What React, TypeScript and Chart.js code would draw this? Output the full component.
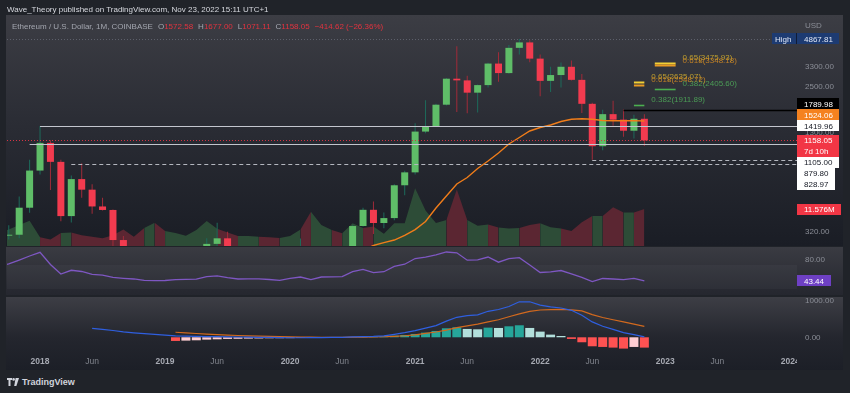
import React, { useEffect, useRef } from "react";
import { Chart, registerables } from "chart.js";
Chart.register(...registerables);

// ---------- data ----------
const MONTHS = [
  "2017-09", "2017-10", "2017-11", "2017-12",
  "2018-01", "2018-02", "2018-03", "2018-04", "2018-05", "2018-06", "2018-07", "2018-08", "2018-09", "2018-10", "2018-11", "2018-12",
  "2019-01", "2019-02", "2019-03", "2019-04", "2019-05", "2019-06", "2019-07", "2019-08", "2019-09", "2019-10", "2019-11", "2019-12",
  "2020-01", "2020-02", "2020-03", "2020-04", "2020-05", "2020-06", "2020-07", "2020-08", "2020-09", "2020-10", "2020-11", "2020-12",
  "2021-01", "2021-02", "2021-03", "2021-04", "2021-05", "2021-06", "2021-07", "2021-08", "2021-09", "2021-10", "2021-11", "2021-12",
  "2022-01", "2022-02", "2022-03", "2022-04", "2022-05", "2022-06", "2022-07", "2022-08", "2022-09", "2022-10", "2022-11",
];
const OPEN = [
  388, 301, 305, 447,
  756, 1118, 855, 397, 670, 577, 455, 433, 283, 233, 197, 113,
  133, 107, 136, 141, 162, 268, 290, 218, 172, 181, 182, 151,
  130, 180, 218, 133, 206, 231, 226, 345, 434, 360, 386, 614,
  737, 1312, 1417, 1919, 2772, 2707, 2275, 2532, 3433, 3001, 4288, 4631,
  3682, 2688, 2919, 3281, 2727, 1943, 1067, 1679, 1553, 1328, 1572.58,
];
const HIGH = [
  394, 349, 523, 880,
  1419.96, 1160, 880, 705, 838, 624, 515, 436, 300, 237, 222, 159,
  160, 166, 146, 186, 290, 362, 318, 237, 224, 199, 194, 153,
  185, 289, 253, 227, 248, 254, 349, 446, 488, 418, 623, 755,
  1475, 2041, 1946, 2797, 4380, 2891, 2551, 3470, 4027, 4460, 4867.81, 4778,
  3900, 3284, 3483, 3582, 2962, 1972, 1785, 2030, 1789.98, 1663, 1677.0,
];
const LOW = [
  198, 285, 290, 417,
  716, 575, 369, 363, 515, 410, 430, 251, 167, 188, 101, 82,
  100, 103, 126, 140, 158, 232, 192, 163, 152, 157, 137, 117,
  127, 180, 90, 130, 176, 216, 224, 343, 308, 334, 374, 533,
  715, 1282, 1410, 1900, 1730, 1700, 1718, 2450, 2652, 2970, 3900, 3500,
  2159, 2300, 2451, 2705, 1705, 879.8, 1007, 1424, 1221, 1191, 1071.11,
];
const CLOSE = [
  301, 305, 447, 756,
  1118, 855, 397, 670, 577, 455, 433, 283, 233, 197, 113, 133,
  107, 136, 141, 162, 268, 290, 218, 172, 181, 182, 151, 130,
  180, 218, 133, 206, 231, 226, 345, 434, 360, 386, 614, 737,
  1312, 1417, 1919, 2772, 2707, 2275, 2532, 3433, 3001, 4288, 4631, 3682,
  2688, 2919, 3281, 2727, 1943, 1067, 1679, 1553, 1328, 1572.67, 1158.05,
];
// volume in millions
const VOLUME_M = [
  4.1, 5.2, 6.6, 7.9,
  2.7, 2.0, 4.1, 4.2, 3.4, 2.9, 2.4, 3.4, 5.2, 2.9, 5.6, 7.3,
  4.7, 4.1, 3.2, 5.0, 7.8, 5.4, 4.2, 3.1, 3.1, 2.9, 2.7, 2.5,
  3.1, 5.2, 10.7, 6.6, 5.0, 4.0, 7.1, 5.6, 6.1, 3.8, 7.1, 7.1,
  18.1, 11.1, 7.2, 8.1, 17.7, 8.1, 6.3, 6.7, 5.8, 5.5, 5.6, 6.6,
  7.1, 5.9, 5.5, 4.7, 7.4, 9.4, 9.4, 12.1, 10.5, 10.5, 11.576,
];
const MA = [
  null, null, null, null,
  null, null, null, null, null, null, null, null, null, null, null, null,
  null, null, null, null, null, null, null, null, null, null, null, null,
  null, null, null, null, null, null, null, 245, 262, 273, 283, 302,
  328, 368, 445, 527, 625, 685, 778, 865, 969, 1101, 1207, 1323,
  1390, 1440, 1513, 1561, 1574, 1561, 1535, 1530, 1530, 1532, 1524.06,
];
const RSI = [
  68, 71.7, 78.3, 85,
  91.2, 70.8, 55, 61.2, 59.2, 54.2, 53, 49.2, 47.8, 46.7, 44.5, 43.8,
  44.2, 45.5, 46, 46.3, 50.5, 52, 48.8, 46.7, 47, 47, 45.8, 44.5,
  47.8, 50, 45.5, 50, 50.3, 50.5, 58.8, 62.8, 57.2, 58.8, 67.8, 71.3,
  80.8, 83.3, 87, 91.7, 90.3, 78, 78.7, 83.3, 74.7, 80.8, 82.2, 70,
  57.5, 58.7, 60.8, 55.3, 49.2, 42.2, 47.5, 46.7, 45.5, 47.8, 43.44,
];
const MACD = [
  null, null, null, null,
  null, null, null, null, null, 246, 215, 185, 150, 122, 98, 78,
  60, 37, 30, 24, 20, 16, 12, 8, 4, 0, -3, -10,
  -12, -12, -11, -8, -5, 0, 11, 18, 26, 41, 80, 125,
  180, 250, 320, 440, 546, 590, 612, 710, 760, 840, 970, 970,
  880, 830, 800, 737, 600, 420, 300, 218, 127, 73, 9,
];
const SIGNAL = [
  null, null, null, null,
  null, null, null, null, null, null, null, null, null, null, null, null,
  null, 137, 120, 103, 87, 73, 60, 49, 40, 32, 24, 17,
  11, 6, 3, 1, 0, 0, 2, 4, 8, 14, 25, 42,
  68, 105, 145, 195, 265, 310, 360, 420, 480, 560, 640, 710,
  745, 755, 760, 748, 720, 620, 540, 480, 420, 360, 300,
];
const HIST = [
  null, null, null, null,
  null, null, null, null, null, null, null, null, null, null, null, null,
  null, -100, -91, -82, -64, -55, -45, -41, -36, -32, -27, -25,
  -23, -18, -14, -9, -5, 2, 9, 14, 18, 27, 45, 64,
  91, 127, 173, 246, 273, 228, 218, 264, 255, 300, 328, 255,
  155, 73, 36, -45, -136, -246, -264, -282, -309, -264, -282,
];

// horizontal drawings: value + month where it starts
const HLINE_VALUES = [1419.96, 1105.0, 828.97, 879.8, 1789.98];
const HLINE_START = ["2018-01", "2017-12", "2018-04", "2022-06", "2022-09"];
const ATH = 4867.81;

// fib retracement drawings
const FIB_LEVELS = ["0.65", "0.618", "0.382"];
const FIB_A_VALUES = [3475.93, 3348.18, 2405.6];
const FIB_A_SPAN = ["2022-12", "2023-02"];
const FIB_B_VALUES = [2635.07, 2548.72, 1911.89];
const FIB_B_SPAN = ["2022-10", "2022-11"];

const PRICE_TICKS = [3300, 2500, 1800, 1300, 600, 320];
const RSI_TICKS = [80];
const MACD_TICKS = [1000, 0];
const TIME_TICK_MONTHS = ["2018-01", "2018-06", "2019-01", "2019-06", "2020-01", "2020-06", "2021-01", "2021-06", "2022-01", "2022-06", "2023-01", "2023-06", "2024-01"];
const TIME_TICK_LABELS = ["2018", "Jun", "2019", "Jun", "2020", "Jun", "2021", "Jun", "2022", "Jun", "2023", "Jun", "2024"];
const BAR_COUNTDOWN = "7d 10h";

// ---------- layout / style ----------
const FONT = '"Liberation Sans", Arial, sans-serif';
const F8 = `8px ${FONT}`;
const X_MIN = -3.17;
const X_MAX = 72.65;
const PAD = { left: 7, right: 53, top: 0, bottom: 0 };
const PRICE_MIN = 260.1;
const PRICE_MAX = 6824;
const VOL_MAX = 72.3;
const GREEN = "#5fbd68";
const RED = "#f23b4f";
const GREEN_WICK = "#1d6b5b";
const RED_WICK = "#a02b39";
const VOL_GREEN = "#2d4c37";
const VOL_RED = "#5b2632";
const AXIS_TXT = "#8b8e97";
const HLINE_STYLES = [
  { color: "#c3c6ce", dash: [], width: 1.2 },
  { color: "#c3c6ce", dash: [], width: 1.2 },
  { color: "#b4b7bf", dash: [4, 3], width: 1 },
  { color: "#b4b7bf", dash: [4, 3], width: 1 },
  { color: "#000000", dash: [], width: 1.5 },
];
const FIB_COLORS = ["#f2cf35", "#ea9b22", "#4caf50"];
const FIB_TEXT = ["rgba(214,178,45,0.85)", "rgba(214,140,35,0.85)", "rgba(76,160,86,0.95)"];

const mIdx = (s: string) => {
  const [y, m] = s.split("-").map(Number);
  return (y - 2018) * 12 + (m - 1);
};
const X = MONTHS.map(mIdx);
const isUp = (k: number) => CLOSE[k] >= OPEN[k];
const LAST = MONTHS.length - 1;

function hline(ctx: any, x0: number, x1: number, y: number, color: string, dash: number[], width: number) {
  ctx.save();
  ctx.strokeStyle = color;
  ctx.lineWidth = width;
  ctx.setLineDash(dash);
  ctx.beginPath();
  const yy = Math.round(y) + 0.5;
  ctx.moveTo(x0, yy);
  ctx.lineTo(x1, yy);
  ctx.stroke();
  ctx.restore();
}

function tag(ctx: any, text: string, yc: number, bg: string, fg: string, left = 797, h = 11) {
  const w = Math.ceil(ctx.measureText(text).width) + 13;
  ctx.fillStyle = bg;
  ctx.fillRect(left, Math.round(yc - h / 2), w, h);
  ctx.fillStyle = fg;
  ctx.fillText(text, left + 7, yc + 0.5);
}

function forceRange(min: number, max: number) {
  return (s: any) => {
    s.min = min;
    s.max = max;
  };
}

const baseOptions = (scales: any, pad: any = PAD) => ({
  animation: false as const,
  responsive: false,
  maintainAspectRatio: false,
  events: [] as any[],
  layout: { padding: pad },
  plugins: { legend: { display: false }, tooltip: { enabled: false } },
  scales,
});

const xScale = {
  type: "linear",
  min: X_MIN,
  max: X_MAX,
  display: false,
  offset: false,
  afterBuildTicks: forceRange(X_MIN, X_MAX),
};

// ---------- main price pane ----------
const mainOverlay = {
  id: "mainOverlay",
  afterDatasetsDraw(chart: any) {
    const { ctx, chartArea: a, scales } = chart;
    const xs = scales.x;
    const ys = scales.y;
    ctx.save();
    ctx.beginPath();
    ctx.rect(a.left, a.top, a.right - a.left, a.bottom - a.top);
    ctx.clip();
    hline(ctx, a.left, a.right, ys.getPixelForValue(ATH), "#5d606b", [1, 2], 1);
    hline(ctx, a.left, a.right, ys.getPixelForValue(CLOSE[LAST]), "#d63444", [1, 2], 1);
    HLINE_VALUES.forEach((v, k) => {
      const st = HLINE_STYLES[k];
      hline(ctx, xs.getPixelForValue(mIdx(HLINE_START[k])), a.right, ys.getPixelForValue(v), st.color, st.dash, st.width);
    });
    ctx.font = F8;
    ctx.textAlign = "left";
    ctx.textBaseline = "bottom";
    const drawFib = (values: number[], span: string[]) => {
      const x0 = xs.getPixelForValue(mIdx(span[0]));
      const x1 = xs.getPixelForValue(mIdx(span[1]));
      values.forEach((v, k) => {
        const y = ys.getPixelForValue(v);
        hline(ctx, x0, x1, y, FIB_COLORS[k], [], k === 2 ? 1.6 : 2);
      });
      values.forEach((v, k) => {
        const y = ys.getPixelForValue(v);
        ctx.fillStyle = FIB_TEXT[k];
        ctx.fillText(`${FIB_LEVELS[k]}(${v.toFixed(2)})`, x1 + 7, y - 1);
      });
    };
    drawFib(FIB_A_VALUES, FIB_A_SPAN);
    drawFib(FIB_B_VALUES, FIB_B_SPAN);
    ctx.restore();
  },
  afterDraw(chart: any) {
    const { ctx, chartArea: a, scales } = chart;
    const ys = scales.y;
    const vs = scales.vol;
    ctx.save();
    ctx.font = F8;
    ctx.textAlign = "left";
    ctx.textBaseline = "middle";
    ctx.fillStyle = AXIS_TXT;
    ctx.fillText("USD", 805, a.top + 11);
    PRICE_TICKS.forEach((v) => {
      ctx.fillStyle = AXIS_TXT;
      ctx.fillText(v.toFixed(2), 805, ys.getPixelForValue(v) + 0.5);
    });
    // High tag
    const yh = ys.getPixelForValue(ATH);
    const hw = Math.ceil(ctx.measureText(ATH.toFixed(2)).width) + 13;
    ctx.fillStyle = "#1d3b72";
    ctx.fillRect(772, Math.round(yh - 5.5), 797 - 772 + hw, 11);
    ctx.fillStyle = "#101c36";
    ctx.fillRect(796, Math.round(yh - 5.5), 1, 11);
    ctx.fillStyle = "#dfe6f5";
    ctx.fillText("High", 775, yh + 0.5);
    ctx.fillText(ATH.toFixed(2), 804, yh + 0.5);

    // current price tag (anchor) and stacked tags
    const yc = ys.getPixelForValue(CLOSE[LAST]);
    const aTop = yc - 5.5;
    const aBot = yc + 16.5;
    const tags = [
      { v: HLINE_VALUES[4], bg: "#000000", fg: "#ffffff" },
      { v: MA[LAST] as number, bg: "#f5821f", fg: "#ffffff" },
      { v: HLINE_VALUES[0], bg: "#ffffff", fg: "#131722" },
      { v: HLINE_VALUES[1], bg: "#ffffff", fg: "#131722" },
      { v: HLINE_VALUES[3], bg: "#ffffff", fg: "#131722" },
      { v: HLINE_VALUES[2], bg: "#ffffff", fg: "#131722" },
    ].map((t) => ({ ...t, d: ys.getPixelForValue(t.v) }));
    const up = tags.filter((t) => t.d <= yc).sort((p, q) => q.d - p.d);
    const down = tags.filter((t) => t.d > yc).sort((p, q) => p.d - q.d);
    let lim = aTop;
    up.forEach((t) => {
      const c = Math.min(t.d, lim - 5.5);
      tag(ctx, t.v.toFixed(2), c, t.bg, t.fg);
      lim = c - 5.5;
    });
    lim = aBot;
    down.forEach((t) => {
      const c = Math.max(t.d, lim + 5.5);
      tag(ctx, t.v.toFixed(2), c, t.bg, t.fg);
      lim = c + 5.5;
    });
    const cw = Math.ceil(ctx.measureText(CLOSE[LAST].toFixed(2)).width) + 13;
    ctx.fillStyle = "#f23645";
    ctx.fillRect(797, Math.round(aTop), cw, 22);
    ctx.fillStyle = "#ffffff";
    ctx.fillText(CLOSE[LAST].toFixed(2), 804, yc + 0.5);
    ctx.fillText(BAR_COUNTDOWN, 804, yc + 11.5);

    // volume tag
    const yv = vs.getPixelForValue(VOLUME_M[LAST]);
    tag(ctx, `${VOLUME_M[LAST].toFixed(3)}M`, yv, "#f23645", "#ffffff");
    ctx.restore();
  },
};

function buildMain(canvas: HTMLCanvasElement) {
  const volData = X.map((x, k) => ({ x, y: VOLUME_M[k] }));
  const wickData = X.map((x, k) => ({ x, y: [LOW[k], HIGH[k]] }));
  const bodyData = X.map((x, k) => ({ x, y: [OPEN[k], CLOSE[k]] }));
  const maData = X.map((x, k) => (MA[k] == null ? null : { x, y: MA[k] })).filter(Boolean);
  return new Chart(canvas, {
    type: "bar",
    data: {
      datasets: [
        {
          type: "line",
          data: volData,
          yAxisID: "vol",
          fill: "origin",
          backgroundColor: VOL_GREEN,
          borderColor: "transparent",
          borderWidth: 0,
          pointRadius: 0,
          segment: { backgroundColor: (c: any) => (isUp(c.p1DataIndex) ? VOL_GREEN : VOL_RED) },
          order: 10,
        } as any,
        {
          data: wickData,
          yAxisID: "y",
          backgroundColor: X.map((_, k) => (isUp(k) ? GREEN_WICK : RED_WICK)),
          borderWidth: 0,
          barThickness: 1,
          inflateAmount: 0,
          grouped: false,
          order: 5,
        } as any,
        {
          data: bodyData,
          yAxisID: "y",
          backgroundColor: X.map((_, k) => (isUp(k) ? GREEN : RED)),
          borderWidth: 0,
          barThickness: 7,
          inflateAmount: 0,
          grouped: false,
          order: 4,
        } as any,
        {
          type: "line",
          data: maData,
          yAxisID: "y",
          borderColor: "#f07d1a",
          borderWidth: 1.4,
          pointRadius: 0,
          fill: false,
          order: 1,
        } as any,
      ],
    },
    options: baseOptions({
      x: xScale,
      y: { type: "logarithmic", min: PRICE_MIN, max: PRICE_MAX, display: false, afterBuildTicks: forceRange(PRICE_MIN, PRICE_MAX) },
      vol: { type: "linear", min: 0, max: VOL_MAX, display: false, afterBuildTicks: forceRange(0, VOL_MAX) },
    }) as any,
    plugins: [mainOverlay],
  });
}

// ---------- RSI pane ----------
const rsiOverlay = {
  id: "rsiOverlay",
  beforeDatasetsDraw(chart: any) {
    const { ctx, chartArea: a, scales } = chart;
    const y70 = scales.y.getPixelForValue(70);
    const y30 = scales.y.getPixelForValue(30);
    ctx.save();
    ctx.fillStyle = "rgba(255,255,255,0.03)";
    ctx.fillRect(a.left, y70, a.right - a.left, y30 - y70);
    ctx.restore();
  },
  afterDraw(chart: any) {
    const { ctx, scales } = chart;
    ctx.save();
    ctx.font = F8;
    ctx.textAlign = "left";
    ctx.textBaseline = "middle";
    RSI_TICKS.forEach((v) => {
      ctx.fillStyle = AXIS_TXT;
      ctx.fillText(v.toFixed(2), 805, scales.y.getPixelForValue(v) + 0.5);
    });
    tag(ctx, RSI[LAST].toFixed(2), scales.y.getPixelForValue(RSI[LAST]), "#6e40c4", "#ffffff");
    ctx.restore();
  },
};

function buildRsi(canvas: HTMLCanvasElement) {
  return new Chart(canvas, {
    type: "line",
    data: {
      datasets: [
        {
          data: X.map((x, k) => ({ x, y: RSI[k] })),
          borderColor: "#7e57c2",
          borderWidth: 1.3,
          pointRadius: 0,
          fill: false,
        },
      ],
    },
    options: baseOptions({
      x: xScale,
      y: { type: "linear", min: 20, max: 100, display: false, afterBuildTicks: forceRange(20, 100) },
    }) as any,
    plugins: [rsiOverlay],
  });
}

// ---------- MACD pane + time axis ----------
const MACD_MIN = -402;
const MACD_MAX = 1128;
const macdOverlay = {
  id: "macdOverlay",
  afterDraw(chart: any) {
    const { ctx, chartArea: a, scales } = chart;
    ctx.save();
    ctx.font = F8;
    ctx.textAlign = "left";
    ctx.textBaseline = "middle";
    MACD_TICKS.forEach((v) => {
      ctx.fillStyle = AXIS_TXT;
      ctx.fillText(v.toFixed(2), 805, scales.y.getPixelForValue(v) + 0.5);
    });
    ctx.beginPath();
    ctx.rect(0, a.bottom, 797, 30);
    ctx.clip();
    ctx.textAlign = "center";
    TIME_TICK_MONTHS.forEach((m, k) => {
      const isYear = TIME_TICK_LABELS[k] !== "Jun";
      ctx.font = `${isYear ? "bold " : ""}8.5px ${FONT}`;
      ctx.fillStyle = isYear ? "#a6a9b2" : "#7f828b";
      ctx.fillText(TIME_TICK_LABELS[k], scales.x.getPixelForValue(mIdx(m)), a.bottom + 10);
    });
    ctx.restore();
  },
};

function buildMacd(canvas: HTMLCanvasElement) {
  const histPts: any[] = [];
  X.forEach((x, k) => {
    if (HIST[k] != null) histPts.push({ x, y: HIST[k] });
  });
  const histColors = histPts.map((p, j) => {
    const prev = j > 0 ? histPts[j - 1].y : null;
    if (p.y >= 0) return prev === null || p.y >= prev ? "#26a69a" : "#b2dfdb";
    return prev === null || p.y < prev ? "#ff5252" : "#ffcdd2";
  });
  const macdPts = X.map((x, k) => (MACD[k] == null ? null : { x, y: MACD[k] })).filter(Boolean);
  const sigPts = X.map((x, k) => (SIGNAL[k] == null ? null : { x, y: SIGNAL[k] })).filter(Boolean);
  return new Chart(canvas, {
    type: "bar",
    data: {
      datasets: [
        { data: histPts, backgroundColor: histColors, borderWidth: 0, barThickness: 9, inflateAmount: 0, grouped: false, order: 3 } as any,
        { type: "line", data: macdPts, borderColor: "#2f5fe0", borderWidth: 1.2, pointRadius: 0, fill: false, order: 1 } as any,
        { type: "line", data: sigPts, borderColor: "#d2691e", borderWidth: 1.2, pointRadius: 0, fill: false, order: 2 } as any,
      ],
    },
    options: baseOptions(
      {
        x: xScale,
        y: { type: "linear", min: MACD_MIN, max: MACD_MAX, display: false, afterBuildTicks: forceRange(MACD_MIN, MACD_MAX) },
      },
      { ...PAD, bottom: 18 }
    ) as any,
    plugins: [macdOverlay],
  });
}

export default function App() {
  const mainRef = useRef<HTMLCanvasElement>(null);
  const rsiRef = useRef<HTMLCanvasElement>(null);
  const macdRef = useRef<HTMLCanvasElement>(null);

  useEffect(() => {
    const m = buildMain(mainRef.current!);
    const r = buildRsi(rsiRef.current!);
    const d = buildMacd(macdRef.current!);
    return () => {
      m.destroy();
      r.destroy();
      d.destroy();
    };
  }, []);

  const last = LAST;
  const change = CLOSE[last] - CLOSE[last - 1];
  const pct = (change / CLOSE[last - 1]) * 100;
  const red = "#e2333f";
  const sp = { marginLeft: 5 };

  return (
    <div style={{ position: "absolute", left: 0, top: 0, width: 850, height: 393, background: "#202329", overflow: "hidden", fontFamily: FONT }}>
      <div style={{ position: "absolute", left: 6, top: 15, width: 837, height: 231, background: "linear-gradient(#3c3d44 0%, #2b2d35 45%, #1a1d25 100%)" }} />
      <div style={{ position: "absolute", left: 6, top: 247, width: 837, height: 48, background: "linear-gradient(#3a3b42 0%, #25272f 100%)" }} />
      <div style={{ position: "absolute", left: 6, top: 297, width: 837, height: 73, background: "linear-gradient(#3d3e45 0%, #24262e 55%, #1c1f27 100%)" }} />
      <canvas ref={mainRef} width={850} height={231} style={{ position: "absolute", left: 0, top: 15 }} />
      <canvas ref={rsiRef} width={850} height={48} style={{ position: "absolute", left: 0, top: 247 }} />
      <canvas ref={macdRef} width={850} height={74} style={{ position: "absolute", left: 0, top: 296 }} />
      <div style={{ position: "absolute", left: 7, top: 4, fontSize: 8, lineHeight: "12px", color: "#d7d9df", whiteSpace: "pre" }}>
        Wave_Theory published on TradingView.com, Nov 23, 2022 15:11 UTC+1
      </div>
      <div style={{ position: "absolute", left: 12, top: 21, fontSize: 8, lineHeight: "12px", color: "#a3a6af", whiteSpace: "pre" }}>
        <span>Ethereum / U.S. Dollar, 1M, COINBASE</span>
        <span style={sp}>O<span style={{ color: red }}>{OPEN[last].toFixed(2)}</span></span>
        <span style={sp}>H<span style={{ color: red }}>{HIGH[last].toFixed(2)}</span></span>
        <span style={sp}>L<span style={{ color: red }}>{LOW[last].toFixed(2)}</span></span>
        <span style={sp}>C<span style={{ color: red }}>{CLOSE[last].toFixed(2)}</span></span>
        <span style={{ ...sp, color: red }}>{`\u2212${Math.abs(change).toFixed(2)} (\u2212${Math.abs(pct).toFixed(2)}%)`}</span>
      </div>
      <div style={{ position: "absolute", left: 7, top: 376, display: "flex", alignItems: "center", gap: 3, color: "#d1d4dc", fontSize: 9, fontWeight: 600, lineHeight: "12px" }}>
        <svg width="12" height="8" viewBox="0 0 12 8">
          <path d="M0 0h5v2H3.5v6h-2V2H0z" fill="#d1d4dc" />
          <circle cx="6.6" cy="1.4" r="1.3" fill="#d1d4dc" />
          <path d="M8.6 0H12L9.4 8H7.2z" fill="#d1d4dc" />
        </svg>
        <span>TradingView</span>
      </div>
    </div>
  );
}
